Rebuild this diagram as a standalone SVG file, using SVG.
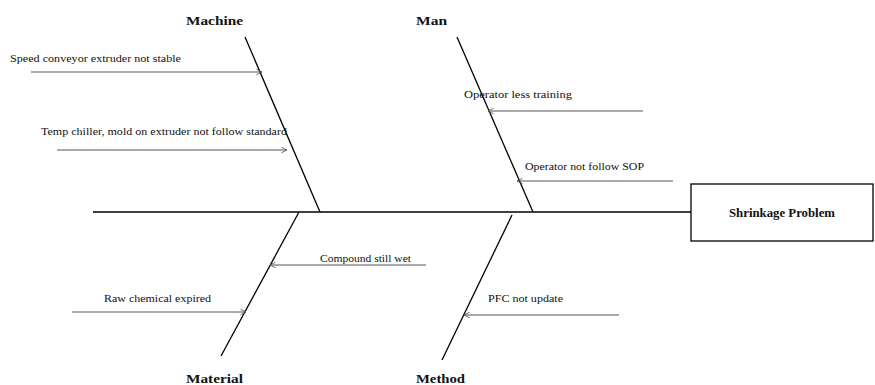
<svg xmlns="http://www.w3.org/2000/svg" width="875" height="385" viewBox="0 0 875 385">
<style>
.bone{stroke:#000;stroke-width:1.3;fill:none}
.arr{stroke:#555;stroke-width:1;fill:none;marker-end:url(#ah)}
.cat{font-family:"Liberation Serif","Times New Roman",serif;font-weight:bold;font-size:13px;fill:#111}
.cause{font-family:"Liberation Serif","Times New Roman",serif;font-size:11px;fill:#111}
.head{font-family:"Liberation Serif","Times New Roman",serif;font-weight:bold;font-size:12px;fill:#111}
</style>
<defs>
<marker id="ah" viewBox="0 0 10 10" refX="9" refY="5" markerWidth="7" markerHeight="7" markerUnits="userSpaceOnUse" orient="auto">
<path d="M1,1 L9,5 L1,9" fill="none" stroke="#555" stroke-width="1.2"/>
</marker>
</defs>
<rect width="875" height="385" fill="#fff"/>
<g id="spine">
<line class="bone" x1="93" y1="212" x2="691" y2="212"/>
</g>
<g id="problem">
<rect x="691" y="184" width="182" height="57" fill="#fff" stroke="#000" stroke-width="1.3"/>
<text class="head" x="782" y="217" text-anchor="middle" textLength="106" lengthAdjust="spacingAndGlyphs">Shrinkage Problem</text>
</g>
<g id="machine">
<line class="bone" x1="245" y1="37" x2="320" y2="212"/>
<text class="cat" x="186" y="25" textLength="57" lengthAdjust="spacingAndGlyphs">Machine</text>
</g>
<g id="man">
<line class="bone" x1="457" y1="37" x2="533" y2="212"/>
<text class="cat" x="416" y="25" textLength="31" lengthAdjust="spacingAndGlyphs">Man</text>
</g>
<g id="material">
<line class="bone" x1="299" y1="212" x2="221" y2="356"/>
<text class="cat" x="186" y="383" textLength="57" lengthAdjust="spacingAndGlyphs">Material</text>
</g>
<g id="method">
<line class="bone" x1="512" y1="215" x2="442" y2="360"/>
<text class="cat" x="416" y="383" textLength="49" lengthAdjust="spacingAndGlyphs">Method</text>
</g>
<g id="connectors">
<line class="arr" x1="31" y1="72" x2="262" y2="72"/>
<line class="arr" x1="57" y1="150" x2="287" y2="150"/>
<line class="arr" x1="643" y1="111" x2="488" y2="111"/>
<line class="arr" x1="673" y1="181" x2="517" y2="181"/>
<line class="arr" x1="426" y1="265" x2="270" y2="265"/>
<line class="arr" x1="72" y1="312" x2="246" y2="312"/>
<line class="arr" x1="619" y1="315" x2="464" y2="315"/>
</g>
<g id="causes">
<text class="cause" x="10" y="62" textLength="171" lengthAdjust="spacingAndGlyphs">Speed conveyor extruder not stable</text>
<text class="cause" x="41" y="135" textLength="246" lengthAdjust="spacingAndGlyphs">Temp chiller, mold on extruder not follow standard</text>
<text class="cause" x="464" y="98" textLength="108" lengthAdjust="spacingAndGlyphs">Operator less training</text>
<text class="cause" x="525" y="170" textLength="119" lengthAdjust="spacingAndGlyphs">Operator not follow SOP</text>
<text class="cause" x="320" y="262" textLength="91" lengthAdjust="spacingAndGlyphs">Compound still wet</text>
<text class="cause" x="104" y="302" textLength="107" lengthAdjust="spacingAndGlyphs">Raw chemical expired</text>
<text class="cause" x="488" y="302" textLength="75" lengthAdjust="spacingAndGlyphs">PFC not update</text>
</g>
</svg>
